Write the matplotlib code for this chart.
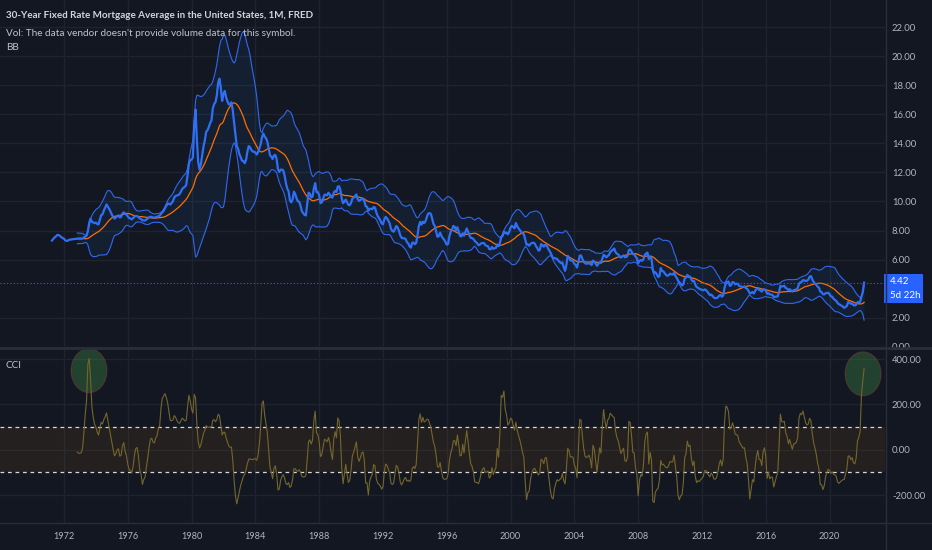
import numpy as np
import pandas as pd
import matplotlib
matplotlib.use("Agg")
import matplotlib.pyplot as plt
from matplotlib.patches import Ellipse, Rectangle
from matplotlib.lines import Line2D

# 30-year fixed mortgage rate, monthly, Apr 1971 .. Mar 2022
rates_1970s = [
    7.31, 7.43, 7.53, 7.60, 7.70, 7.69, 7.63, 7.55, 7.48,
    7.44, 7.32, 7.29, 7.31, 7.37, 7.37, 7.40, 7.40, 7.42, 7.43, 7.44, 7.44,
    7.44, 7.44, 7.46, 7.52, 7.58, 7.64, 7.97, 8.53, 8.82, 8.60, 8.56, 8.51,
    8.54, 8.46, 8.42, 8.74, 9.07, 9.11, 9.38, 9.57, 9.80, 9.65, 9.49, 9.31,
    9.10, 8.94, 8.82, 8.89, 8.99, 9.04, 8.90, 8.95, 9.16, 9.25, 9.14, 9.10,
    8.97, 8.86, 8.83, 8.77, 8.85, 8.96, 9.00, 8.99, 8.93, 8.83, 8.80, 8.70,
    8.70, 8.69, 8.76, 8.83, 8.91, 8.95, 8.94, 8.90, 8.89, 8.92, 8.94, 8.99,
    9.02, 9.15, 9.26, 9.36, 9.55, 9.71, 9.85, 9.85, 9.79, 9.89, 10.02, 10.28,
    10.38, 10.41, 10.44, 10.51, 10.68, 10.86, 10.95, 11.02, 11.15, 11.80, 12.59, 12.85,
]
rates_1980s = [
    12.88, 13.04, 15.28, 16.32, 14.26, 12.71, 12.19, 12.56, 13.20, 13.79, 14.21, 14.79,
    14.90, 15.13, 15.40, 15.58, 16.40, 16.70, 16.83, 17.29, 18.16, 18.45, 17.83, 16.92,
    17.40, 17.60, 17.16, 16.89, 16.68, 16.70, 16.82, 16.27, 15.43, 14.61, 13.83, 13.62,
    13.25, 13.04, 12.80, 12.78, 12.63, 12.87, 13.42, 13.81, 13.73, 13.54, 13.44, 13.42,
    13.37, 13.23, 13.39, 13.65, 13.94, 14.42, 14.67, 14.47, 14.35, 14.13, 13.64, 13.18,
    13.08, 12.92, 13.17, 13.20, 12.91, 12.22, 12.03, 12.19, 12.19, 12.14, 11.78, 11.26,
    10.88, 10.71, 10.08, 9.94, 10.14, 10.68, 10.51, 10.20, 10.01, 9.98, 9.70, 9.32,
    9.20, 9.08, 9.04, 9.83, 10.60, 10.54, 10.28, 10.33, 10.89, 11.26, 10.65, 10.65,
    10.43, 9.89, 9.93, 10.20, 10.46, 10.46, 10.43, 10.60, 10.48, 10.30, 10.27, 10.61,
    10.73, 10.65, 11.03, 11.05, 10.77, 10.20, 9.88, 9.99, 10.13, 9.95, 9.77, 9.74,
]
rates_1990s = [
    9.90, 10.20, 10.27, 10.37, 10.48, 10.16, 10.04, 10.10, 10.18, 10.18, 10.01, 9.67,
    9.64, 9.37, 9.50, 9.49, 9.47, 9.62, 9.58, 9.24, 9.01, 8.86, 8.71, 8.50,
    8.43, 8.76, 8.94, 8.85, 8.67, 8.51, 8.13, 7.98, 7.92, 8.09, 8.31, 8.22,
    7.99, 7.68, 7.50, 7.47, 7.47, 7.42, 7.21, 7.11, 6.92, 6.83, 7.16, 7.17,
    7.06, 7.15, 7.68, 8.32, 8.60, 8.40, 8.61, 8.51, 8.64, 8.93, 9.17, 9.20,
    9.15, 8.83, 8.46, 8.32, 7.96, 7.57, 7.61, 7.86, 7.64, 7.48, 7.38, 7.20,
    7.03, 7.08, 7.62, 7.93, 8.07, 8.32, 8.25, 8.00, 8.23, 7.92, 7.62, 7.60,
    7.82, 7.65, 7.90, 8.14, 7.94, 7.69, 7.50, 7.48, 7.43, 7.29, 7.21, 7.10,
    6.99, 7.04, 7.13, 7.14, 7.14, 7.00, 6.95, 6.92, 6.72, 6.71, 6.87, 6.74,
    6.79, 6.81, 7.04, 6.92, 7.15, 7.55, 7.63, 7.94, 7.82, 7.85, 7.74, 7.91,
]
rates_2000s = [
    8.21, 8.33, 8.24, 8.15, 8.52, 8.29, 8.15, 8.03, 7.91, 7.80, 7.75, 7.38,
    7.03, 7.05, 6.95, 7.08, 7.15, 7.16, 7.13, 6.95, 6.82, 6.62, 6.66, 7.07,
    7.00, 6.89, 7.01, 6.99, 6.81, 6.65, 6.49, 6.29, 6.09, 6.11, 6.07, 6.05,
    5.92, 5.84, 5.75, 5.81, 5.48, 5.23, 5.63, 6.26, 6.15, 5.95, 5.93, 5.88,
    5.71, 5.64, 5.45, 5.83, 6.27, 6.29, 6.06, 5.87, 5.75, 5.72, 5.73, 5.75,
    5.71, 5.63, 5.93, 5.86, 5.72, 5.58, 5.70, 5.82, 5.77, 6.07, 6.33, 6.27,
    6.15, 6.25, 6.32, 6.51, 6.60, 6.68, 6.76, 6.52, 6.40, 6.36, 6.24, 6.14,
    6.22, 6.29, 6.16, 6.18, 6.26, 6.66, 6.70, 6.57, 6.38, 6.38, 6.21, 6.10,
    5.76, 5.92, 5.97, 5.92, 6.04, 6.32, 6.43, 6.48, 6.04, 6.20, 6.09, 5.33,
    5.06, 5.13, 5.00, 4.81, 4.86, 5.42, 5.22, 5.19, 5.06, 4.95, 4.88, 4.93,
]
rates_2010s = [
    5.03, 4.99, 4.97, 5.10, 4.89, 4.74, 4.56, 4.43, 4.35, 4.23, 4.30, 4.71,
    4.76, 4.95, 4.84, 4.84, 4.64, 4.51, 4.55, 4.27, 4.11, 4.07, 3.99, 3.96,
    3.92, 3.89, 3.95, 3.91, 3.80, 3.68, 3.55, 3.60, 3.50, 3.38, 3.35, 3.35,
    3.41, 3.53, 3.57, 3.45, 3.54, 4.07, 4.37, 4.46, 4.49, 4.19, 4.26, 4.46,
    4.43, 4.30, 4.34, 4.34, 4.19, 4.16, 4.13, 4.12, 4.16, 4.04, 4.00, 3.86,
    3.67, 3.71, 3.77, 3.67, 3.84, 3.98, 4.05, 3.91, 3.89, 3.80, 3.94, 3.96,
    3.87, 3.66, 3.69, 3.61, 3.60, 3.57, 3.44, 3.44, 3.46, 3.47, 3.77, 4.20,
    4.15, 4.17, 4.20, 4.05, 4.01, 3.90, 3.97, 3.88, 3.81, 3.90, 3.92, 3.95,
    4.03, 4.33, 4.44, 4.47, 4.59, 4.57, 4.53, 4.55, 4.63, 4.83, 4.87, 4.64,
    4.46, 4.37, 4.27, 4.14, 4.07, 3.80, 3.77, 3.62, 3.61, 3.69, 3.70, 3.72,
]
rates_2020s = [
    3.62, 3.47, 3.45, 3.31, 3.23, 3.16, 3.02, 2.94, 2.89, 2.83, 2.77, 2.68,
    2.74, 2.81, 3.08, 3.06, 2.96, 2.98, 2.87, 2.84, 2.90, 3.07, 3.07, 3.10,
    3.45, 3.76, 4.42,
]

start_year, start_month = 1971, 4
last_value = "4.42"
countdown = "5d 22h"

price_ticks = [0, 2, 6, 8, 10, 12, 14, 16, 18, 20, 22]
cci_ticks = [400, 200, 0, -200]
year_ticks = list(range(1972, 2021, 4))

# user drawn highlight circles on the CCI pane (center year, center value)
highlight_x = [1973.57, 2022.10]
highlight_y = [349, 335]

BB_LEN = 20
BB_MULT = 3.1
CCI_LEN = 20

BG = "#131722"
GRID = "#1f2330"
SEP = "#2a2e39"
TXT = "#b2b5be"
BLUE = "#2962ff"

plt.rcParams["font.family"] = ["Lato", "DejaVu Sans"]

close = pd.Series(rates_1970s + rates_1980s + rates_1990s + rates_2000s
                  + rates_2010s + rates_2020s)
n = len(close)
t = start_year + (start_month - 1 + np.arange(n)) / 12.0

basis = close.rolling(BB_LEN).mean()
dev = close.rolling(BB_LEN).std(ddof=0)
upper = basis + BB_MULT * dev
lower = basis - BB_MULT * dev

cci_ma = close.rolling(CCI_LEN).mean()
mad = close.rolling(CCI_LEN).apply(lambda w: np.mean(np.abs(w - w.mean())), raw=True)
cci = (close - cci_ma) / (0.015 * mad)

W, H = 932, 550
fig = plt.figure(figsize=(W / 100, H / 100), dpi=100, facecolor=BG)

x_left, x_right = 1967.99, 1967.99 + 885 / 15.95
ax = fig.add_axes([0, (H - 347) / H, 885 / W, 347 / H], facecolor=BG)
ax2 = fig.add_axes([0, (H - 523) / H, 885 / W, (523 - 348) / H], facecolor=BG)

for a in (ax, ax2):
    a.set_xlim(x_left, x_right)
    for s in a.spines.values():
        s.set_visible(False)
    a.set_xticks(year_ticks)
    a.xaxis.grid(True, color=GRID, lw=1)
    a.yaxis.grid(True, color=GRID, lw=1)
    a.yaxis.tick_right()
    a.tick_params(axis="both", length=0, colors=TXT, labelsize=6.8, pad=5)
    a.set_axisbelow(True)

# price pane
ax.set_ylim(-0.01, 23.86)
ax.set_yticks(price_ticks)
ax.set_yticklabels([f"{v:.2f}" for v in price_ticks])
ax.set_xticklabels([])
ax.fill_between(t, lower, upper, color="#2196f3", alpha=0.08, lw=0)
ax.plot(t, upper, color="#3068f0", lw=0.8)
ax.plot(t, lower, color="#3068f0", lw=0.8)
ax.plot(t, basis, color="#ff6d00", lw=0.9)
ax.plot(t, close, color="#2f6ff5", lw=1.6)
ax.axhline(close.iloc[-1], color=BLUE, lw=0.8, ls=(0, (1, 2)))

# CCI pane
ax2.set_ylim(-323.6, 449)
ax2.set_yticks(cci_ticks)
ax2.set_yticklabels([f"{v:.2f}" for v in cci_ticks])
ax2.set_xticklabels([str(y) for y in year_ticks])
ax2.tick_params(axis="x", labelsize=6.6, pad=6.3)
ax2.axhspan(-100, 100, color="#ff9800", alpha=0.07, lw=0)
for lvl in (100, -100):
    ax2.axhline(lvl, color="#d8d8d8", lw=0.9, ls=(0, (3, 3)))
ax2.plot(t, cci, color="#75662c", lw=0.8)
for cx, cy in zip(highlight_x, highlight_y):
    ax2.add_patch(Ellipse((cx, cy), 36 / 15.95, 44 / 0.2265, facecolor="#4caf50",
                          alpha=0.28, edgecolor="#c8404a", lw=0.8))

# separators
fig.add_artist(Line2D([0, 1], [(H - 347.5) / H] * 2, color=SEP, lw=2))
fig.add_artist(Line2D([0, 1], [(H - 523) / H] * 2, color=SEP, lw=1))
fig.add_artist(Line2D([885.5 / W] * 2, [0, 1], color=SEP, lw=1))

# last value box
fig.add_artist(Rectangle((884 / W, (H - 303.3) / H), 38.7 / W, 29 / H,
                         facecolor=BLUE, edgecolor="none"))
fig.text(890 / W, (H - 282) / H, last_value, color="white", fontsize=7, va="center")
fig.text(890 / W, (H - 296) / H, countdown, color="white", fontsize=7, va="center")

# legends
fig.text(6 / W, (H - 15) / H,
         "30-Year Fixed Rate Mortgage Average in the United States, 1M, FRED",
         color="#d1d4dc", fontsize=7.1, fontweight="bold", va="center")
fig.text(6 / W, (H - 33) / H,
         "Vol: The data vendor doesn't provide volume data for this symbol.",
         color="#c0c3cb", fontsize=7.2, va="center")
fig.text(6 / W, (H - 47.5) / H, "BB", color="#c0c3cb", fontsize=7.2, va="center")
fig.text(6 / W, (H - 365) / H, "CCI", color="#c0c3cb", fontsize=7.2, va="center")

fig.savefig("out.png", dpi=100, facecolor=BG)
